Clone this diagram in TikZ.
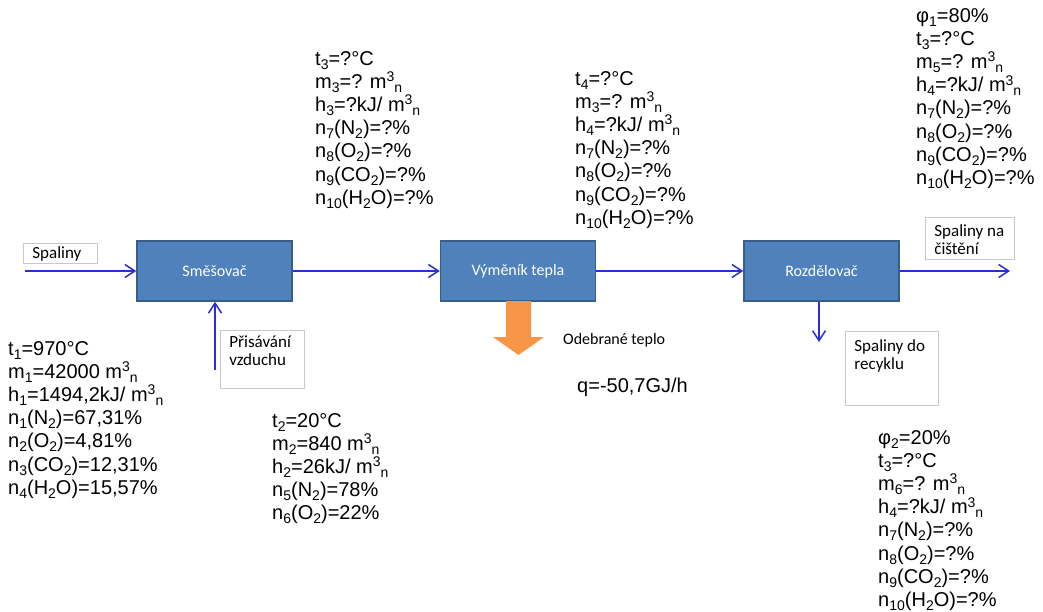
\documentclass[tikz,border=0pt]{standalone}
\usepackage{fontspec}
\setmainfont{Liberation Sans}
\newfontfamily\calfont{Carlito}
\usetikzlibrary{arrows.meta,calc}
\definecolor{boxblue}{RGB}{79,129,189}
\definecolor{boxedge}{RGB}{56,93,138}
\definecolor{flowblue}{RGB}{45,45,215}
\definecolor{heatorange}{RGB}{247,150,70}
\definecolor{lblgray}{RGB}{200,200,200}
\lineskiplimit=-30pt
\newcommand{\sbs}[1]{\raisebox{-0.2em}{\fontsize{14}{14}\selectfont #1}}
\newcommand{\sps}[1]{\raisebox{0.33em}{\fontsize{14}{14}\selectfont #1}}
\newcommand{\lbltext}[4]{\parbox[c][#2][t]{#1}{\vspace*{#3}\raggedright\leftskip=9pt\relax #4}}
\tikzset{
  blk/.style={fill=boxblue, draw=boxedge, line width=1.5pt, minimum width=155pt, minimum height=60pt, inner sep=0pt, text=white, font=\calfont\fontsize{16}{18}\selectfont},
  flow/.style={draw=flowblue, line width=1.5pt, -{Straight Barb[length=10pt,width=13pt]}},
  vals/.style={anchor=north west, inner sep=0pt, align=left, font=\fontsize{20}{23.2}\selectfont},
  lbl/.style={draw=lblgray, line width=0.8pt, fill=white, inner sep=0pt, anchor=north west, font=\calfont\fontsize{17}{18.5}\selectfont},
}
\begin{document}
\begin{tikzpicture}[x=1pt,y=-1pt]
\fill[white] (0,0) rectangle (1043,612);
\useasboundingbox (0,0) rectangle (1043,612);

% process blocks
\node[blk] (smes) at (214.5,271) {Směšovač};
\node[blk] (vym) at (518,271) {Výměník tepla};
\node[blk] (roz) at (821.5,271) {Rozdělovač};

% label boxes
\node[lbl] (lspal) at (23,243) {\lbltext{74pt}{20pt}{3pt}{Spaliny}};
\node[lbl] (lpris) at (220,330) {\lbltext{84pt}{58pt}{5pt}{Přisávání\\vzduchu}};
\node[lbl] (lcist) at (925,217) {\lbltext{89pt}{42pt}{7pt}{Spaliny na\\čištění}};
\node[lbl] (lrec) at (845,331) {\lbltext{93pt}{74pt}{8pt}{Spaliny do\\recyklu}};

% connectors
\coordinate (inp) at (25,271);
\coordinate (air) at (215,370);
\coordinate (outp) at (1010,271);
\coordinate (rec) at (819,342);
\draw[flow] (inp) -- (smes.west);
\draw[flow] (air) -- (air |- smes.south);
\draw[flow] (smes.east) -- (vym.west);
\draw[flow] (vym.east) -- (roz.west);
\draw[flow] (roz.east) -- (outp);
\draw[flow] (rec |- roz.south) -- (rec);

% heat removal arrow
\fill[heatorange] (506,301) -- (531,301) -- (531,337) -- (544,337) -- (518.5,355) -- (493,337) -- (506,337) -- cycle;
\node[anchor=west, inner sep=0pt, font=\calfont\fontsize{16}{18}\selectfont] (odeb) at (563,340) {Odebrané teplo};
\node[anchor=north west, inner sep=0pt, font=\fontsize{20}{23.2}\selectfont] (qval) at (577,378) {q=-50,7GJ/h};

% value blocks
\node[vals] (va) at (8,341) {t\sbs{1}=970°C\\
m\sbs{1}=42000 m\sps{3}\sbs{n}\\
h\sbs{1}=1494,2kJ/ m\sps{3}\sbs{n}\\
n\sbs{1}(N\sbs{2})=67,31\%\\
n\sbs{2}(O\sbs{2})=4,81\%\\
n\sbs{3}(CO\sbs{2})=12,31\%\\
n\sbs{4}(H\sbs{2}O)=15,57\%};

\node[vals] (vb) at (272,413) {t\sbs{2}=20°C\\
m\sbs{2}=840 m\sps{3}\sbs{n}\\
h\sbs{2}=26kJ/ m\sps{3}\sbs{n}\\
n\sbs{5}(N\sbs{2})=78\%\\
n\sbs{6}(O\sbs{2})=22\%};

\node[vals] (vc) at (315,51) {t\sbs{3}=?°C\\
m\sbs{3}=? m\sps{3}\sbs{n}\\
h\sbs{3}=?kJ/ m\sps{3}\sbs{n}\\
n\sbs{7}(N\sbs{2})=?\%\\
n\sbs{8}(O\sbs{2})=?\%\\
n\sbs{9}(CO\sbs{2})=?\%\\
n\sbs{10}(H\sbs{2}O)=?\%};

\node[vals] (vd) at (575,71) {t\sbs{4}=?°C\\
m\sbs{3}=? m\sps{3}\sbs{n}\\
h\sbs{4}=?kJ/ m\sps{3}\sbs{n}\\
n\sbs{7}(N\sbs{2})=?\%\\
n\sbs{8}(O\sbs{2})=?\%\\
n\sbs{9}(CO\sbs{2})=?\%\\
n\sbs{10}(H\sbs{2}O)=?\%};

\node[vals] (ve) at (916,8) {φ\sbs{1}=80\%\\
t\sbs{3}=?°C\\
m\sbs{5}=? m\sps{3}\sbs{n}\\
h\sbs{4}=?kJ/ m\sps{3}\sbs{n}\\
n\sbs{7}(N\sbs{2})=?\%\\
n\sbs{8}(O\sbs{2})=?\%\\
n\sbs{9}(CO\sbs{2})=?\%\\
n\sbs{10}(H\sbs{2}O)=?\%};

\node[vals] (vf) at (878,430) {φ\sbs{2}=20\%\\
t\sbs{3}=?°C\\
m\sbs{6}=? m\sps{3}\sbs{n}\\
h\sbs{4}=?kJ/ m\sps{3}\sbs{n}\\
n\sbs{7}(N\sbs{2})=?\%\\
n\sbs{8}(O\sbs{2})=?\%\\
n\sbs{9}(CO\sbs{2})=?\%\\
n\sbs{10}(H\sbs{2}O)=?\%};
\end{tikzpicture}
\end{document}
